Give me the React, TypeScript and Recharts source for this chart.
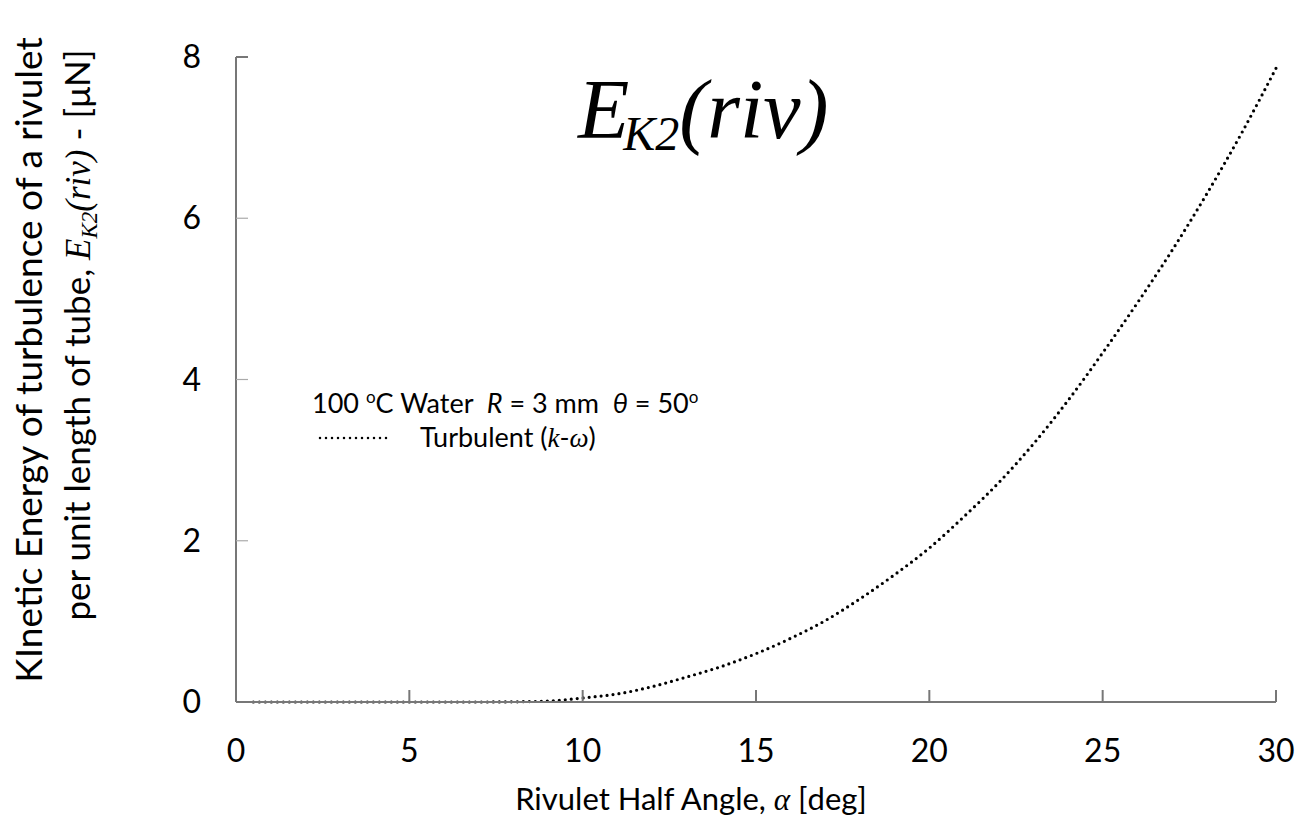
import React from "react";
import { LineChart, Line, XAxis, YAxis, Legend } from "recharts";

// rivulet half angle [deg] and kinetic energy of turbulence [µN]
const alphaDeg = [0.5, 1, 2, 3, 4, 5, 6, 7, 8, 9, 10, 11, 12, 13, 14, 15, 16, 17, 18, 19, 20, 21, 22, 23, 24, 25, 26, 27, 28, 29, 30];
const ek2Turbulent = [0, 0, 0, 0, 0, 0, 0, 0, 0.002, 0.012, 0.05, 0.1, 0.19, 0.31, 0.44, 0.6, 0.79, 1.01, 1.28, 1.58, 1.91, 2.3, 2.72, 3.2, 3.74, 4.33, 4.95, 5.6, 6.3, 7.05, 7.86];

const xTicks = [0, 5, 10, 15, 20, 25, 30];
const yTicks = [0, 2, 4, 6, 8];

const data = alphaDeg.map((a, i) => ({ alpha: a, ek2: ek2Turbulent[i] }));

const SANS = "Lato, 'Open Sans', sans-serif";
const SERIF = "'Liberation Serif', 'DejaVu Serif', serif";
const AXIS = "#777";

// x ticks point up into the plot, labels sit well below the axis
const XTick = (props: any) => {
  const { x, y, payload } = props;
  return (
    <g>
      <line x1={x} x2={x} y1={y} y2={y - 12} stroke={AXIS} strokeWidth={2} />
      <text x={x} y={y + 60} textAnchor="middle" fontFamily={SANS} fontSize={32} fill="#000">
        {payload.value}
      </text>
    </g>
  );
};

// y ticks point right into the plot
const YTick = (props: any) => {
  const { x, y, payload } = props;
  return (
    <g>
      {payload.value !== 0 && (
        <line
          x1={x}
          x2={x + 12}
          y1={y}
          y2={y}
          stroke={payload.value === 8 ? AXIS : "#aaa"}
          strokeWidth={payload.value === 8 ? 2 : 1.2}
        />
      )}
      <text x={x - 35} y={y + 11} textAnchor="end" fontFamily={SANS} fontSize={32} fill="#000">
        {payload.value}
      </text>
    </g>
  );
};

const LegendBox = () => (
  <div style={{ fontFamily: SANS, fontSize: 27, color: "#000", lineHeight: "34px", whiteSpace: "nowrap" }}>
    <div>
      100 <sup style={{ fontSize: 17 }}>o</sup>C Water&nbsp; <i>R</i> = 3 mm&nbsp; <i>θ</i> = 50
      <sup style={{ fontSize: 17 }}>o</sup>
    </div>
    <div style={{ display: "flex", alignItems: "center" }}>
      <svg width={80} height={10} style={{ marginLeft: 6 }}>
        <line x1={2} x2={70} y1={5} y2={5} stroke="#000" strokeWidth={2.5} strokeDasharray="0 6" strokeLinecap="round" />
      </svg>
      <span style={{ marginLeft: 22 }}>
        Turbulent (<span style={{ fontFamily: SERIF, fontStyle: "italic" }}>k</span>-
        <span style={{ fontFamily: SERIF, fontStyle: "italic" }}>ω</span>)
      </span>
    </div>
  </div>
);

export default function App() {
  return (
    <div style={{ position: "absolute", left: 0, top: 0, width: 1313, height: 821, background: "#fff" }}>
      <LineChart width={1313} height={821} data={data} margin={{ top: 57, right: 37, left: 160, bottom: 59 }}>
        <XAxis
          dataKey="alpha"
          type="number"
          domain={[0, 30]}
          ticks={xTicks}
          axisLine={{ stroke: AXIS, strokeWidth: 2 }}
          tickLine={false}
          tickSize={0}
          tickMargin={0}
          tick={<XTick />}
          height={60}
          interval={0}
        />
        <YAxis
          type="number"
          domain={[0, 8]}
          ticks={yTicks}
          axisLine={{ stroke: AXIS, strokeWidth: 2 }}
          tickLine={false}
          tickSize={0}
          tickMargin={0}
          tick={<YTick />}
          width={76}
          interval={0}
        />
        <Legend
          layout="horizontal"
          verticalAlign="middle"
          align="center"
          content={<LegendBox />}
          wrapperStyle={{ position: "absolute", left: 312, top: 380, width: "auto" }}
        />
        <Line
          type="monotone"
          dataKey="ek2"
          stroke="#000"
          strokeWidth={3.2}
          strokeDasharray="0 6"
          strokeLinecap="round"
          dot={false}
          activeDot={false}
          isAnimationActive={false}
        />
        {/* title */}
        <text x={578} y={138} fontFamily={SERIF} fontStyle="italic" fontSize={84} fill="#000">
          E
          <tspan fontSize={48} dx={-6} dy={12}>K2</tspan>
          <tspan dy={-12}>(riv)</tspan>
        </text>
        {/* y-axis title, two lines */}
        <text x={42} y={360} transform="rotate(-90, 42, 360)" textAnchor="middle" fontFamily={SANS} fontSize={37} fill="#000">
          KInetic Energy of turbulence of a rivulet
        </text>
        <text x={90} y={335} transform="rotate(-90, 90, 335)" textAnchor="middle" fontFamily={SANS} fontSize={35} fill="#000">
          per unit length of tube,{" "}
          <tspan fontFamily={SERIF} fontStyle="italic">E</tspan>
          <tspan fontFamily={SERIF} fontStyle="italic" fontSize={23} dy={7}>K2</tspan>
          <tspan fontFamily={SERIF} fontStyle="italic" dy={-7}>(riv)</tspan>
          <tspan> - [μN]</tspan>
        </text>
        {/* x-axis title */}
        <text x={691} y={810} textAnchor="middle" fontFamily={SANS} fontSize={31} fill="#000">
          Rivulet Half Angle, <tspan fontFamily={SERIF} fontStyle="italic">α</tspan> [deg]
        </text>
      </LineChart>
    </div>
  );
}
